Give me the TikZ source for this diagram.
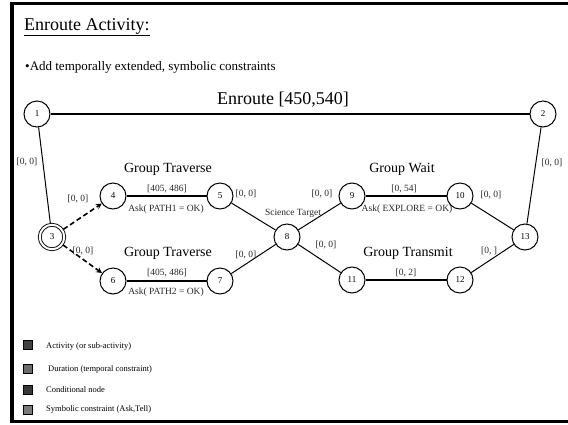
\documentclass[tikz,border=0pt]{standalone}
\usepackage{fontspec}
\setmainfont{Liberation Serif}
\begin{document}
\begin{tikzpicture}[x=1pt, y=-1pt, >=stealth,
  stn/.style={circle, draw, line width=1pt, minimum size=26pt, inner sep=0pt, font=\fontsize{9}{10}\selectfont},
  condstn/.style={stn, double, line width=0.9pt, double distance=2pt, minimum size=24.5pt, outer sep=1.5pt},
  act/.style={line width=1.8pt},
  lnk/.style={line width=1pt},
  cnd/.style={->, line width=1.6pt, dash pattern=on 5pt off 3pt},
  lbl/.style={font=\fontsize{9.5}{10}\selectfont, inner sep=0pt, text=black!85},
  grp/.style={font=\fontsize{14}{16}\selectfont, inner sep=0pt},
  key/.style={draw, line width=1pt, minimum size=9pt, inner sep=0pt},
  keytext/.style={font=\fontsize{8.5}{10}\selectfont, anchor=west, inner sep=0pt}]
\useasboundingbox (0,0) rectangle (568,424);
\draw[line width=3.4pt] (572,3.3) -- (12,3.3) -- (12,421.7) -- (572,421.7);

% heading
\node[anchor=base west, inner sep=0pt, font=\fontsize{18}{20}\selectfont] (title) at (24,30) {\underline{Enroute Activity:}};
\node[anchor=base west, inner sep=0pt, font=\fontsize{13}{15}\selectfont] (sub) at (25,70) {\textbullet Add temporally extended, symbolic constraints};

% time points
\node[stn] (n1) at (37,114) {1};
\node[stn] (n2) at (543,114) {2};
\node[condstn] (n3) at (52,237) {3};
\node[stn] (n4) at (113,196) {4};
\node[stn] (n5) at (220,196) {5};
\node[stn] (n6) at (113,281) {6};
\node[stn] (n7) at (220,281) {7};
\node[stn] (n8) at (287,237) {8};
\node[stn] (n9) at (352,196) {9};
\node[stn] (n10) at (460,196) {10};
\node[stn] (n11) at (352,280) {11};
\node[stn] (n12) at (460,280) {12};
\node[stn] (n13) at (525,237) {13};

% activities
\draw[act] (n1) -- (n2);
\draw[act] (n4) -- (n5);
\draw[act] (n6) -- (n7);
\draw[act] (n9) -- (n10);
\draw[act] (n11) -- (n12);

% links
\draw[lnk] (n1) -- (n3);
\draw[lnk] (n5) -- (n8);
\draw[lnk] (n7) -- (n8);
\draw[lnk] (n8) -- (n9);
\draw[lnk] (n8) -- (n11);
\draw[lnk] (n10) -- (n13);
\draw[lnk] (n12) -- (n13);
\draw[lnk] (n2) -- (n13);
\draw[cnd] (n3) -- (n4);
\draw[cnd] (n3) -- (n6);

% names and bounds
\node[inner sep=0pt, font=\fontsize{18}{20}\selectfont] (enr) at (283,100) {Enroute [450,540]};
\node[grp] (gt1) at (168,169) {Group Traverse};
\node[grp] (gt2) at (168,253) {Group Traverse};
\node[grp] (gw) at (402,169) {Group Wait};
\node[grp] (gx) at (408,253) {Group Transmit};
\node[lbl] (d45) at (167,189) {[405, 486]};
\node[lbl] (d67) at (167,273) {[405, 486]};
\node[lbl] (d910) at (404,189) {[0, 54]};
\node[lbl] (d1112) at (406,273) {[0, 2]};
\node[lbl] (a45) at (166,209) {Ask( PATH1 = OK)};
\node[lbl] (a67) at (166,292) {Ask( PATH2 = OK)};
\node[lbl] (a910) at (407,209) {Ask( EXPLORE = OK)};
\node[lbl] (sci) at (293,213) {Science Target};
\node[lbl] (d13) at (27,162) {[0, 0]};
\node[lbl] (d34) at (78,199) {[0, 0]};
\node[lbl] (d36) at (83,251) {[0, 0]};
\node[lbl] (d58) at (246,194) {[0, 0]};
\node[lbl] (d78) at (246,255) {[0, 0]};
\node[lbl] (d89) at (322,194) {[0, 0]};
\node[lbl] (d811) at (326,245) {[0, 0]};
\node[lbl] (d1013) at (491,195) {[0, 0]};
\node[lbl] (d1213) at (489,251) {[0, ]};
\node[lbl] (d213) at (552,163) {[0, 0]};

% key
\node[key, fill=black!75] (k1) at (28,345) {};
\node[key, fill=black!58] (k2) at (28,369) {};
\node[key, fill=black!78] (k3) at (28,390) {};
\node[key, fill=black!52] (k4) at (28,410) {};
\node[keytext] (t1) at (46,346) {Activity (or sub-activity)};
\node[keytext] (t2) at (48,369) {Duration (temporal constraint)};
\node[keytext] (t3) at (46,390) {Conditional node};
\node[keytext] (t4) at (46,409) {Symbolic constraint (Ask,Tell)};
\end{tikzpicture}
\end{document}
